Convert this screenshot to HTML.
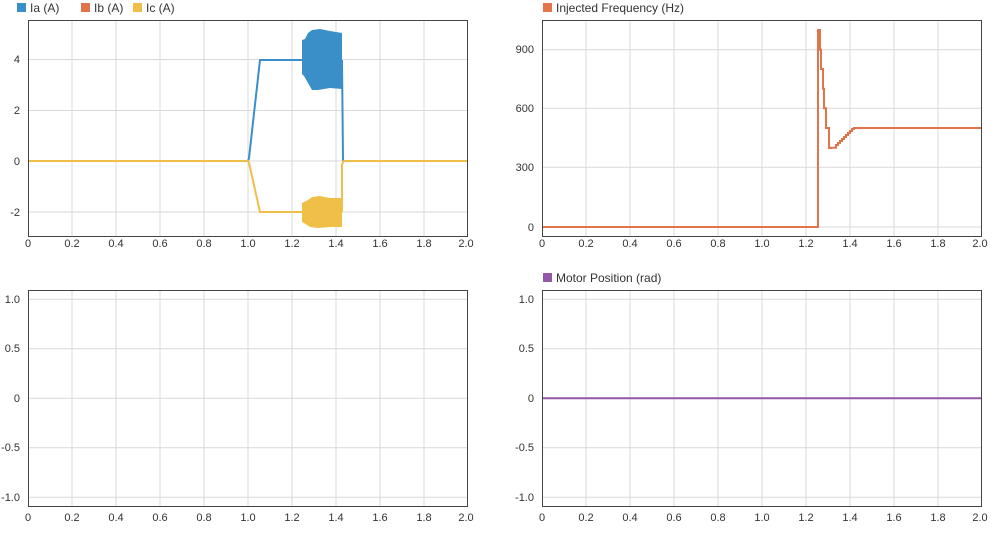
<!DOCTYPE html>
<html><head><style>
body{margin:0;background:#fff;}
svg text{font-family:"Liberation Sans",Arial,sans-serif;font-size:11px;fill:#333;}
.lg{font-size:12px;fill:#333;}
.g line{stroke:#d9d9d9;stroke-width:1;}
</style></head><body>
<svg width="1002" height="530" viewBox="0 0 1002 530" xmlns="http://www.w3.org/2000/svg">
<defs>
<g id="vg" class="g">
<line x1="72" y1="0" x2="72" y2="217"/><line x1="116" y1="0" x2="116" y2="217"/><line x1="160" y1="0" x2="160" y2="217"/><line x1="204" y1="0" x2="204" y2="217"/><line x1="248" y1="0" x2="248" y2="217"/><line x1="292" y1="0" x2="292" y2="217"/><line x1="336" y1="0" x2="336" y2="217"/><line x1="380" y1="0" x2="380" y2="217"/><line x1="424" y1="0" x2="424" y2="217"/>
</g>
<g id="xl">
<text x="28" y="0" text-anchor="middle">0</text><text x="72" y="0" text-anchor="middle">0.2</text><text x="116" y="0" text-anchor="middle">0.4</text><text x="160" y="0" text-anchor="middle">0.6</text><text x="204" y="0" text-anchor="middle">0.8</text><text x="248" y="0" text-anchor="middle">1.0</text><text x="292" y="0" text-anchor="middle">1.2</text><text x="336" y="0" text-anchor="middle">1.4</text><text x="380" y="0" text-anchor="middle">1.6</text><text x="424" y="0" text-anchor="middle">1.8</text><text x="466" y="0" text-anchor="middle">2.0</text>
</g>
</defs>

<!-- Plot 1 -->
<rect x="17" y="3" width="9" height="9" fill="#3a8fc9"/><text class="lg" x="30" y="12">Ia (A)</text>
<rect x="81" y="3" width="9" height="9" fill="#e2734a"/><text class="lg" x="94" y="12">Ib (A)</text>
<rect x="133" y="3" width="9" height="9" fill="#efbf47"/><text class="lg" x="146" y="12">Ic (A)</text>
<use href="#vg" x="0" y="20"/>
<g class="g"><line x1="28" y1="59.5" x2="468" y2="59.5"/><line x1="28" y1="110.5" x2="468" y2="110.5"/><line x1="28" y1="161" x2="468" y2="161"/><line x1="28" y1="212" x2="468" y2="212"/></g>
<g text-anchor="end"><text x="20" y="63">4</text><text x="20" y="114">2</text><text x="20" y="165">0</text><text x="20" y="216">-2</text></g>
<polyline points="28,161 248,161 249,158 260,60 302,60" fill="none" stroke="#3a8fc9" stroke-width="2"/>
<polygon points="302,40 305,39 308,33 312,30 320,29 330,31 342,33 342,89 330,88 318,90 312,90 308,83 304,76 302,74" fill="#3a8fc9"/>
<polyline points="342,60 343,160 344,161" fill="none" stroke="#3a8fc9" stroke-width="2"/>
<polyline points="28,161 248,161 249,163 260,212 302,212" fill="none" stroke="#efbf47" stroke-width="2"/>
<polygon points="302,203 308,200 312,197 320,196 330,198 342,198 342,227 330,227 318,228 310,227 304,223 302,222" fill="#efbf47"/>
<polyline points="342,212 342,164 344,161 468,161" fill="none" stroke="#efbf47" stroke-width="2"/>
<rect x="28.5" y="20.5" width="439" height="216" fill="none" stroke="#444" stroke-width="1"/>
<use href="#xl" x="0" y="247"/>

<!-- Plot 2 -->
<rect x="543" y="3" width="9" height="9" fill="#e2734a"/><text class="lg" x="556" y="12">Injected Frequency (Hz)</text>
<use href="#vg" x="514" y="20"/>
<g class="g"><line x1="542" y1="49.7" x2="982" y2="49.7"/><line x1="542" y1="108.3" x2="982" y2="108.3"/><line x1="542" y1="167.3" x2="982" y2="167.3"/><line x1="542" y1="227" x2="982" y2="227"/></g>
<g text-anchor="end"><text x="534" y="53">900</text><text x="534" y="112">600</text><text x="534" y="171">300</text><text x="534" y="231">0</text></g>
<polyline points="542,227 818,227 818,30 820,30 820,49.7 821,49.7 821,69 823,69 823,88.7 824,88.7 824,108.3 826,108.3 826,128 829,128 829,148 829,148 830,148 830,148 831,148 831,147.7 836,147.7 836,145 838,145 838,143 840,143 840,141 842,141 842,139 844,139 844,137 846,137 846,135 848,135 848,133 850,133 850,131 852,131 852,129 854,129 854,128 982,128" fill="none" stroke="#e2734a" stroke-width="2"/>
<rect x="542.5" y="20.5" width="439" height="216" fill="none" stroke="#444" stroke-width="1"/>
<use href="#xl" x="514" y="247"/>

<!-- Plot 3 -->
<use href="#vg" x="0" y="290"/>
<g class="g"><line x1="28" y1="299.3" x2="468" y2="299.3"/><line x1="28" y1="348.8" x2="468" y2="348.8"/><line x1="28" y1="398.3" x2="468" y2="398.3"/><line x1="28" y1="447.8" x2="468" y2="447.8"/><line x1="28" y1="497.3" x2="468" y2="497.3"/></g>
<g text-anchor="end"><text x="20" y="303">1.0</text><text x="20" y="352">0.5</text><text x="20" y="402">0</text><text x="20" y="451">-0.5</text><text x="20" y="501">-1.0</text></g>
<rect x="28.5" y="290.5" width="439" height="216" fill="none" stroke="#444" stroke-width="1"/>
<use href="#xl" x="0" y="521"/>

<!-- Plot 4 -->
<rect x="543" y="273" width="9" height="9" fill="#9457a8"/><text class="lg" x="556" y="282">Motor Position (rad)</text>
<use href="#vg" x="514" y="290"/>
<g class="g"><line x1="542" y1="299.3" x2="982" y2="299.3"/><line x1="542" y1="348.8" x2="982" y2="348.8"/><line x1="542" y1="447.8" x2="982" y2="447.8"/><line x1="542" y1="497.3" x2="982" y2="497.3"/></g>
<g text-anchor="end"><text x="534" y="303">1.0</text><text x="534" y="352">0.5</text><text x="534" y="402">0</text><text x="534" y="451">-0.5</text><text x="534" y="501">-1.0</text></g>
<line x1="542" y1="398.3" x2="982" y2="398.3" stroke="#9457a8" stroke-width="2"/>
<rect x="542.5" y="290.5" width="439" height="216" fill="none" stroke="#444" stroke-width="1"/>
<use href="#xl" x="514" y="521"/>
</svg>
</body></html>
